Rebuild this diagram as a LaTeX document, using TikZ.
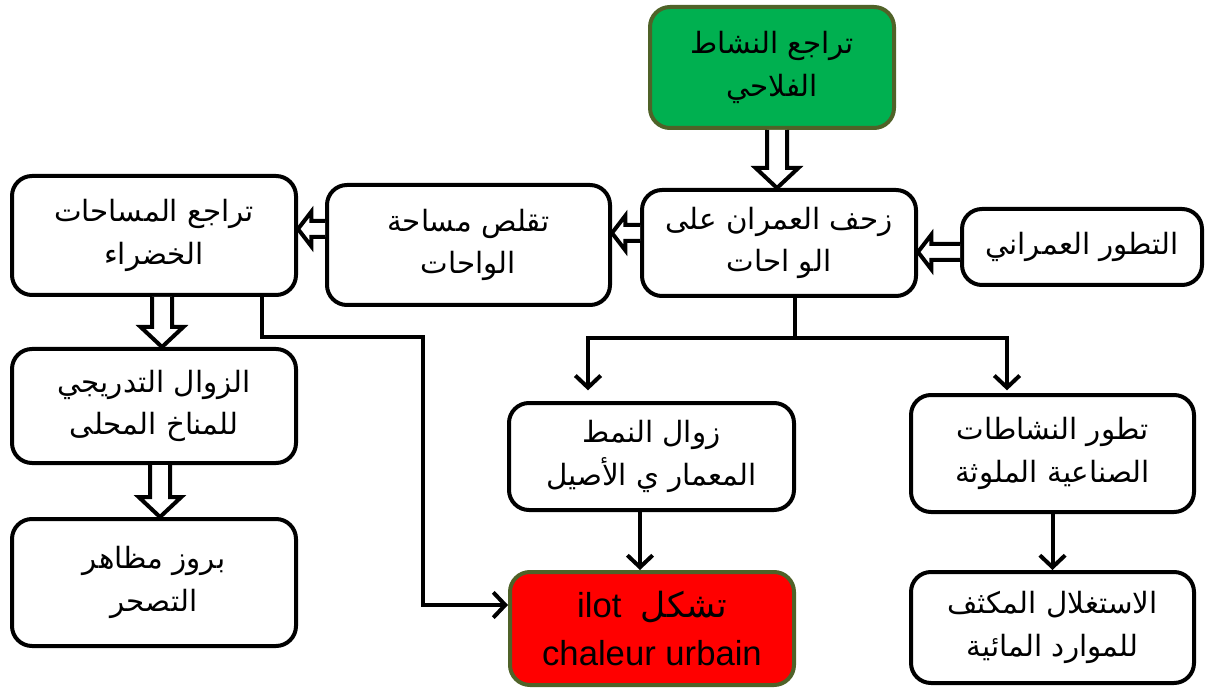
\documentclass[tikz,border=0pt]{standalone}
\usepackage{fontspec}
\setmainfont{Liberation Sans}
\newfontfamily\arabicfont[Script=Arabic]{DejaVu Sans}
\TeXXeTstate=1
\usetikzlibrary{arrows.meta,calc}
\definecolor{boxolive}{HTML}{4F6228}
\definecolor{boxgreen}{HTML}{00B050}
\definecolor{boxred}{HTML}{FF0000}
\newcommand\artxt[1]{{\arabicfont\beginR #1\endR}}
\newcommand\hdown[2]{\draw[hollow] let \p1=(#1), \p2=(#2) in
  (\x1-7.5pt,\y1) -- (\x1-7.5pt,\y2+15pt) -- (\x1-16pt,\y2+15pt) -- (\x1,\y2)
  -- (\x1+16pt,\y2+15pt) -- (\x1+7.5pt,\y2+15pt) -- (\x1+7.5pt,\y1);}
\newcommand\hleft[2]{\draw[hollow] let \p1=(#1), \p2=(#2) in
  (\x1,\y1+6pt) -- (\x2+10pt,\y1+6pt) -- (\x2+10pt,\y1+13pt) -- (\x2,\y1)
  -- (\x2+10pt,\y1-13pt) -- (\x2+10pt,\y1-6pt) -- (\x1,\y1-6pt);}
\tikzset{
  box/.style={draw=black, line width=3pt, rounded corners=15pt, align=center,
    inner sep=0pt, fill=white, font=\fontsize{22}{32}\selectfont},
  greenbox/.style={box, draw=boxolive, fill=boxgreen},
  redbox/.style={box, draw=boxolive, fill=boxred, font=\fontsize{26}{36}\selectfont},
  hollow/.style={draw=black, fill=white, line width=3pt, line join=miter},
  link/.style={draw=black, line width=3pt},
  arr/.style={link, -{Straight Barb[length=9pt,width=19pt]}},
}
\begin{document}
\begin{tikzpicture}[x=0.75pt,y=-0.75pt]
\useasboundingbox (0,0) rectangle (1206,691);
% boxes
\node[greenbox, minimum width=183pt, minimum height=90.75pt] (green) at (772,67.5)
  {\artxt{تراجع النشاط}\\\artxt{الفلاحي}};
\node[box, minimum width=205.5pt, minimum height=79.5pt] (zahf) at (779,243)
  {\artxt{زحف العمران على}\\\artxt{الو احات}};
\node[box, minimum width=180pt, minimum height=57pt] (tatawwur) at (1082,247)
  {\artxt{التطور العمراني}};
\node[box, minimum width=212.25pt, minimum height=90pt] (taqallus) at (468.5,245)
  {\artxt{تقلص مساحة}\\\artxt{الواحات}};
\node[box, minimum width=213pt, minimum height=89.25pt] (taraju) at (154,235.5)
  {\artxt{تراجع المساحات}\\\artxt{الخضراء}};
\node[box, minimum width=213pt, minimum height=85.5pt] (zawal1) at (154,406)
  {\artxt{الزوال التدريجي}\\\artxt{للمناخ المحلى}};
\node[box, minimum width=213pt, minimum height=95.25pt] (buruz) at (154,582.5)
  {\artxt{بروز مظاهر}\\\artxt{التصحر}};
\node[box, minimum width=213.75pt, minimum height=80.25pt] (zawal2) at (651.5,456.5)
  {\artxt{زوال النمط}\\\artxt{المعمار ي الأصيل}};
\node[box, minimum width=212.25pt, minimum height=87.75pt] (nashat) at (1052.5,453.5)
  {\artxt{تطور النشاطات}\\\artxt{الصناعية الملوثة}};
\node[box, minimum width=212.25pt, minimum height=83.25pt] (istighlal) at (1052.5,627.5)
  {\artxt{الاستغلال المكثف}\\\artxt{للموارد المائية}};
\node[redbox, minimum width=213pt, minimum height=84.75pt] (red) at (652,628.5)
  {ilot\ \ \artxt{تشكل}\\chaleur urbain};
% hollow arrows
\hdown{$(green.south)+(5,0)$}{zahf.north}
\hleft{$(zahf.west)+(0,-10)$}{taqallus.east}
\hleft{$(tatawwur.west)+(0,5)$}{zahf.east}
\hleft{$(taqallus.west)+(0,-16)$}{taraju.east}
\hdown{$(taraju.south)+(8,0)$}{zawal1.north}
\hdown{$(zawal1.south)+(6,0)$}{buruz.north}
% thin connectors
\coordinate (j) at (795,338);
\coordinate (jl) at (588,338);
\coordinate (jr) at (1007,338);
\coordinate (c1) at (640,0);
\coordinate (k1) at (262,337);
\coordinate (k2) at (423,605);
\draw[link] (zahf.south -| j) -- (j);
\draw[link, line cap=rect] (jl) -- (jr);
\draw[arr, shorten >=8pt] (jl) -- (jl |- zawal2.north);
\draw[arr, shorten >=2pt] (jr) -- (jr |- nashat.north);
\draw[arr] (zawal2.south -| c1) -- (red.north -| c1);
\draw[arr] (nashat.south) -- (istighlal.north);
\draw[arr] (taraju.south -| k1) -- (k1) -| (k2) -- (red.west |- k2);
\end{tikzpicture}
\end{document}
